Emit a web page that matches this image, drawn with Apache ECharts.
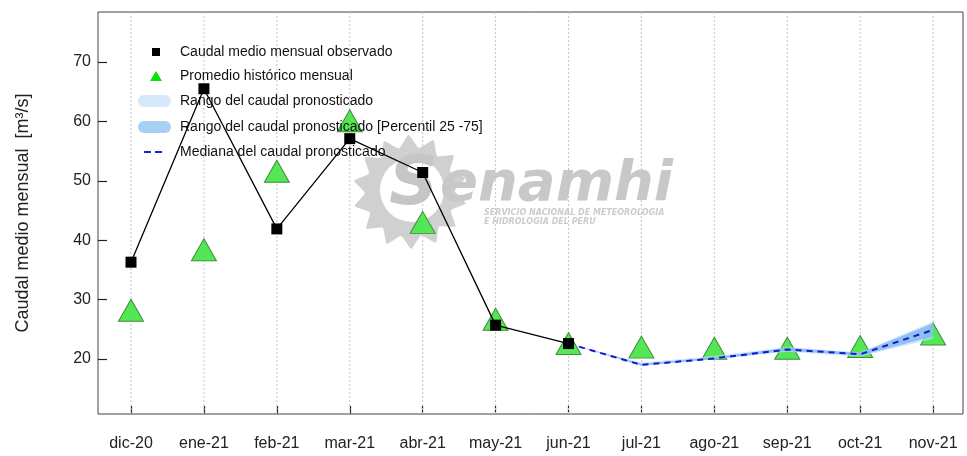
<!DOCTYPE html>
<html>
<head>
<meta charset="utf-8">
<script src="https://cdn.jsdelivr.net/npm/echarts@6/dist/echarts.min.js"></script>
<style>
  html, body { margin: 0; padding: 0; background: #fff; }
  #chart { width: 967px; height: 456px; }
</style>
</head>
<body>
<div id="chart"></div>
<script>
// meses del gráfico
const categories = ['dic-20', 'ene-21', 'feb-21', 'mar-21', 'abr-21', 'may-21',
  'jun-21', 'jul-21', 'ago-21', 'sep-21', 'oct-21', 'nov-21'];
// caudal medio mensual observado (dic-20 .. jun-21)
const observed = [36.3, 65.5, 41.9, 57.1, 51.4, 25.7, 22.6];
// promedio histórico mensual
const historical = [28.2, 38.4, 51.6, 60.1, 43.0, 26.7, 22.6, 22.0, 21.8, 21.8, 22.1, 24.2];
// pronóstico (jun-21 .. nov-21)
const forecastStart = 6;
const medianFc = [22.6, 19.0, 20.1, 21.6, 20.8, 24.9];
const rangeLow = [22.6, 18.8, 19.9, 21.2, 20.4, 23.4];
const rangeHigh = [22.6, 19.4, 20.5, 22.0, 21.1, 26.3];
const p25 = [22.6, 18.9, 20.0, 21.4, 20.6, 23.8];
const p75 = [22.6, 19.2, 20.3, 21.9, 21.0, 26.0];
const yTicks = [20, 30, 40, 50, 60, 70];

const FONT = 'Liberation Sans, Arial, sans-serif';
const catIdx = categories.map((c, i) => i);

const chart = echarts.init(document.getElementById('chart'));

// banda sombreada entre dos curvas
const bandRender = (lo, hi, fill) => (params, api) => {
  if (params.dataIndex !== 0) return;
  const pts = [];
  for (let i = 0; i < hi.length; i++) pts.push(api.coord([forecastStart + i, hi[i]]));
  for (let i = lo.length - 1; i >= 0; i--) pts.push(api.coord([forecastStart + i, lo[i]]));
  return { type: 'polygon', shape: { points: pts }, style: { fill: fill } };
};

// logo de fondo (marca de agua)
const sunPts = [];
const cx = 410, cy = 192;
for (let k = 0; k < 28; k++) {
  const a = (k / 28) * Math.PI * 2 + 0.2;
  const r = k % 2 === 0 ? 57 : 45;
  sunPts.push([cx + r * Math.cos(a), cy + r * Math.sin(a)]);
}

const pill = 'path://M6,0 H27 A6,6 0 0 1 27,12 H6 A6,6 0 0 1 6,0 Z';
const dashes = 'path://M0,0 H7 V2 H0 Z M11,0 H18 V2 H11 Z';

const legendBase = {
  orient: 'vertical',
  padding: 0,
  selectedMode: false,
  textStyle: { fontFamily: FONT, fontSize: 14, color: '#111' },
};

chart.setOption({
  animation: false,
  backgroundColor: '#fff',
  grid: {
    left: 98, right: 4, top: 12, bottom: 42,
    show: true, borderColor: '#444', borderWidth: 1, backgroundColor: 'transparent',
  },
  graphic: [
    { type: 'polygon', z: -10, shape: { points: sunPts, smooth: 0.15 }, style: { fill: '#d0d0d0' } },
    { type: 'circle', z: -10, shape: { cx: cx + 2, cy: cy - 2, r: 32 }, style: { fill: '#fff' } },
    {
      type: 'text', z: -10, left: 389, top: 152,
      style: { text: 'S', fill: '#c6c6c6', font: 'italic bold 68px DejaVu Sans' },
    },
    {
      type: 'text', z: -10, left: 440, top: 157,
      style: { text: 'enamhi', fill: '#c8c8c8', font: 'italic bold 56px DejaVu Sans' },
    },
    {
      type: 'text', z: -10, left: 484, top: 208,
      style: {
        text: 'SERVICIO NACIONAL DE METEOROLOGIA\nE HIDROLOGIA DEL PERU',
        fill: '#cccccc', font: 'italic bold 8px DejaVu Sans', lineHeight: 9,
      },
    },
  ],
  legend: [
    Object.assign({}, legendBase, {
      left: 152, top: 45, itemWidth: 8, itemHeight: 8,
      data: [{ name: 'Caudal medio mensual observado', icon: 'rect', itemStyle: { color: '#000' } }],
      textStyle: Object.assign({}, legendBase.textStyle, { padding: [0, 0, 0, 15] }),
    }),
    Object.assign({}, legendBase, {
      left: 150, top: 69, itemWidth: 12, itemHeight: 10,
      data: [{ name: 'Promedio histórico mensual', icon: 'triangle', itemStyle: { color: '#00e600', borderWidth: 0 } }],
      textStyle: Object.assign({}, legendBase.textStyle, { padding: [0, 0, 0, 13] }),
    }),
    Object.assign({}, legendBase, {
      left: 138, top: 94, itemWidth: 33, itemHeight: 12,
      data: [{ name: 'Rango del caudal pronosticado', icon: pill, itemStyle: { color: '#d6e9fb' } }],
      textStyle: Object.assign({}, legendBase.textStyle, { padding: [0, 0, 0, 4] }),
    }),
    Object.assign({}, legendBase, {
      left: 138, top: 120, itemWidth: 33, itemHeight: 12,
      data: [{ name: 'Rango del caudal pronosticado [Percentil 25 -75]', icon: pill, itemStyle: { color: '#a8d0f5' } }],
      textStyle: Object.assign({}, legendBase.textStyle, { padding: [0, 0, 0, 4] }),
    }),
    Object.assign({}, legendBase, {
      left: 144, top: 145, itemWidth: 18, itemHeight: 2,
      data: [{ name: 'Mediana del caudal pronosticado', icon: dashes, itemStyle: { color: '#2020cc' } }],
      textStyle: Object.assign({}, legendBase.textStyle, { padding: [0, 0, 0, 13] }),
    }),
  ],
  xAxis: {
    type: 'value',
    min: -0.4526,
    max: 11.41,
    axisLine: { show: false, onZero: false },
    splitLine: { show: false },
    axisTick: {
      show: true, inside: true, length: 8, customValues: catIdx,
      lineStyle: { color: '#222', width: 1.2 },
    },
    axisLabel: {
      customValues: catIdx,
      formatter: v => categories[Math.round(v)] || '',
      margin: 22, fontFamily: FONT, fontSize: 16, color: '#222',
    },
  },
  yAxis: {
    type: 'value',
    min: 10.74,
    max: 78.42,
    name: 'Caudal medio mensual  [m³/s]',
    nameLocation: 'middle',
    nameGap: 66,
    nameTextStyle: { fontFamily: FONT, fontSize: 18, color: '#222' },
    axisLine: { show: false, onZero: false },
    splitLine: { show: false },
    axisTick: {
      show: true, inside: true, length: 9, customValues: yTicks,
      lineStyle: { color: '#222', width: 1.2 },
    },
    axisLabel: {
      customValues: yTicks,
      margin: 7, fontFamily: FONT, fontSize: 16, color: '#222',
    },
  },
  series: [
    {
      // líneas verticales punteadas en cada mes
      name: 'grid',
      type: 'custom',
      z: 1,
      silent: true,
      data: catIdx,
      encode: { x: 0 },
      renderItem: (params, api) => {
        const x = api.value(0);
        const p1 = api.coord([x, 10.74]);
        const p2 = api.coord([x, 78.42]);
        return {
          type: 'line',
          shape: { x1: p1[0], y1: p1[1], x2: p2[0], y2: p2[1] },
          style: { stroke: '#c4c4c4', lineWidth: 1, lineDash: [2, 2] },
        };
      },
    },
    {
      name: 'Promedio histórico mensual',
      type: 'scatter',
      z: 3,
      symbol: 'triangle',
      symbolSize: [25, 22],
      data: historical.map((v, i) => [i, v]),
      itemStyle: { color: '#55e655', borderColor: '#3d8f3d', borderWidth: 1, opacity: 1 },
    },
    {
      name: 'Rango del caudal pronosticado',
      type: 'custom',
      z: 4,
      silent: true,
      data: rangeLow.map((v, i) => [forecastStart + i, v, rangeHigh[i]]),
      encode: { x: 0, y: [1, 2] },
      renderItem: bandRender(rangeLow, rangeHigh, 'rgba(190,222,250,0.7)'),
    },
    {
      name: 'Rango del caudal pronosticado [Percentil 25 -75]',
      type: 'custom',
      z: 5,
      silent: true,
      data: p25.map((v, i) => [forecastStart + i, v, p75[i]]),
      encode: { x: 0, y: [1, 2] },
      renderItem: bandRender(p25, p75, 'rgba(120,180,240,0.75)'),
    },
    {
      name: 'Mediana del caudal pronosticado',
      type: 'line',
      z: 6,
      symbol: 'none',
      data: medianFc.map((v, i) => [forecastStart + i, v]),
      lineStyle: { color: '#1818cc', width: 2, type: [6, 5] },
    },
    {
      name: 'Caudal medio mensual observado',
      type: 'line',
      z: 7,
      symbol: 'rect',
      symbolSize: 11,
      data: observed.map((v, i) => [i, v]),
      lineStyle: { color: '#000', width: 1.3 },
      itemStyle: { color: '#000' },
    },
  ],
});
</script>
</body>
</html>
